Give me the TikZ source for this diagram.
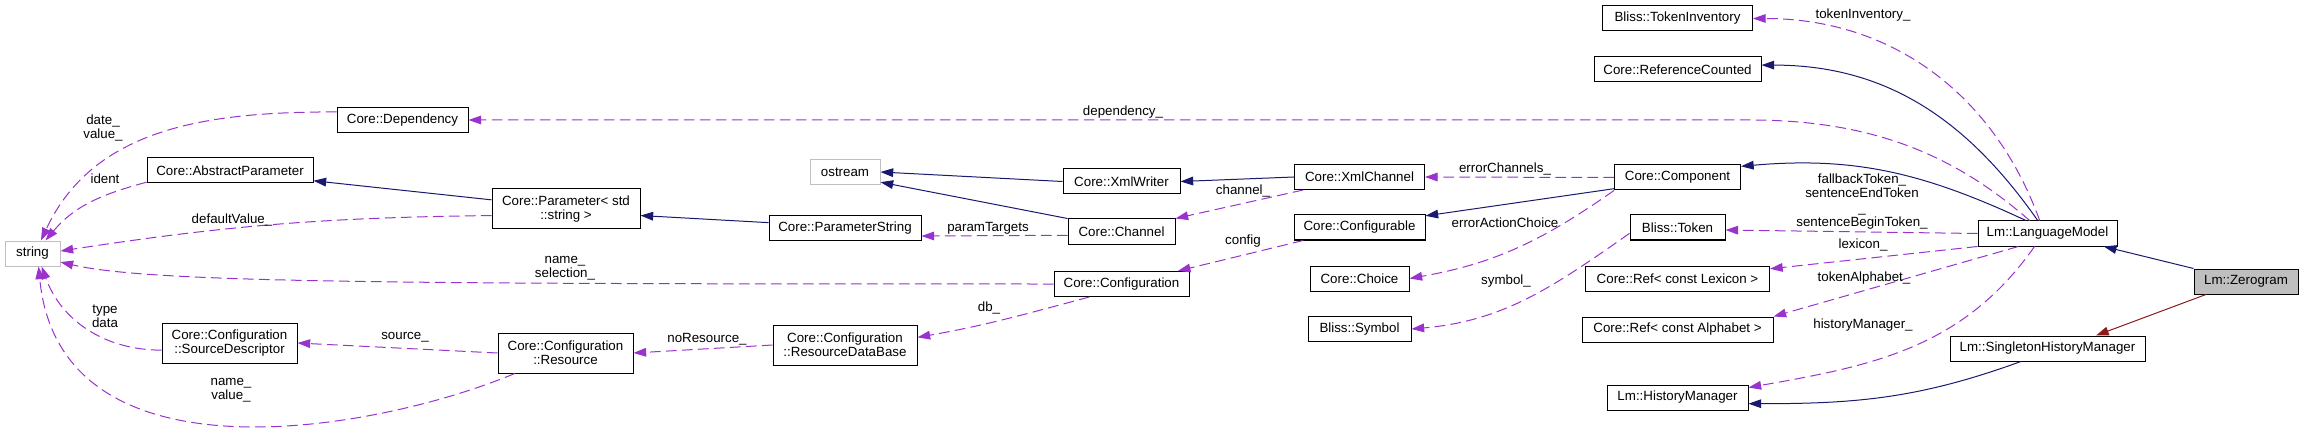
\documentclass[tikz,border=0pt]{standalone}
\usepackage{fontspec}
\setmainfont{Liberation Sans}
\usepackage{xcolor}
\usepackage{tikz}
\usetikzlibrary{arrows.meta}

\definecolor{edgeblue}{HTML}{191970}
\definecolor{edgepurple}{HTML}{9A32CD}
\definecolor{edgered}{HTML}{8B1A1A}
\definecolor{extgray}{HTML}{BFBFBF}

\tikzset{
  cls/.style={draw, rectangle, line width=0.75pt, fill=white, minimum height=18.75pt, inner sep=0pt, align=center, font=\fontsize{10}{10.7}\selectfont},
  ext/.style={cls, draw=extgray},
  lbl/.style={inner sep=0pt, align=center, font=\fontsize{10}{10.7}\selectfont},
  inherit/.style={edgeblue, line width=0.75pt, -{Triangle[length=9.5pt,width=6.5pt]}},
  usage/.style={edgepurple, line width=0.75pt, dash pattern=on 8pt off 4pt, -{Triangle[length=9.5pt,width=6.5pt]}},
}

\begin{document}
\begin{tikzpicture}[x=0.75pt, y=-0.75pt]
\useasboundingbox (0,0) rectangle (2303,431);

% External types
\node[ext, minimum width=41.25pt] (string) at (32.5,253.5) {string};
\node[ext, minimum width=52.5pt] (ostream) at (845,172) {ostream};

% Core classes
\node[cls, minimum width=98.25pt] (dep) at (402.5,120) {Core::Dependency};
\node[cls, minimum width=124.5pt] (absparam) at (230,170.5) {Core::AbstractParameter};
\node[cls, minimum width=101.25pt, minimum height=30pt] (srcdesc) at (229.5,343) {Core::Configuration\\::SourceDescriptor};
\node[cls, minimum width=111pt, minimum height=30pt] (param) at (566,209) {Core::Parameter< std\\::string >};
\node[cls, minimum width=101.25pt, minimum height=30pt] (resource) at (565.5,353) {Core::Configuration\\::Resource};
\node[cls, minimum width=108pt, minimum height=30pt] (resdb) at (845,345) {Core::Configuration\\::ResourceDataBase};
\node[cls, minimum width=114pt] (paramstr) at (845,228) {Core::ParameterString};
\node[cls, minimum width=87.75pt] (xmlwriter) at (1121.5,181.5) {Core::XmlWriter};
\node[cls, minimum width=80.25pt] (channel) at (1121.5,231.5) {Core::Channel};
\node[cls, minimum width=101.25pt] (config) at (1121.5,284) {Core::Configuration};

% Middle column
\foreach \nm/\y/\bw/\txt in {xmlchannel/177/97.5/Core::XmlChannel, configurable/227.5/98.25/Core::Configurable, choice/278.5/74.25/Core::Choice, symbol/329/77.25/Bliss::Symbol} {
   \node[cls, minimum width=\bw pt] (\nm) at (1359.5,\y) {\txt};
}

% Right column
\foreach \nm/\y/\bw/\txt in {tokinv/18.5/112.5/Bliss::TokenInventory, refcount/69.5/125.25/Core::ReferenceCounted, component/177.5/94.5/Core::Component, token/227.5/71.25/Bliss::Token, lexicon/278.5/138/Core::Ref< const Lexicon >, alphabet/329.5/143.25/Core::Ref< const Alphabet >, histmgr/397.5/105.75/Lm::HistoryManager} {
   \node[cls, minimum width=\bw pt] (\nm) at (1677.5,\y) {\txt};
}

% Lm classes
\node[cls, minimum width=104.25pt] (langmodel) at (2047.5,233.5) {Lm::LanguageModel};
\node[cls, minimum width=146.25pt] (singleton) at (2047.5,348.5) {Lm::SingletonHistoryManager};
\node[cls, fill=extgray, minimum width=78pt] (zerogram) at (2246,281.5) {Lm::Zerogram};

% Inheritance
\draw[inherit] (param.173) -- (absparam.-7);
\draw[inherit] (paramstr.176) -- (param.-5);
\draw[inherit] (xmlwriter.west) -- (ostream.east);
\draw[inherit] (channel.north west) -- (ostream.-16);
\draw[inherit] (xmlchannel.west) -- (xmlwriter.east);
\draw[inherit] (component.190) -- (configurable.10);
\draw[inherit] (langmodel.149) to[out=155,in=5] (component.10);
\draw[inherit] (langmodel.127) to[out=125,in=0] (refcount.3);
\draw[inherit] (zerogram.north west) -- (langmodel.-13);
\draw[inherit] (singleton.206) to[out=200,in=0] (histmgr.-5);
\draw[inherit, edgered] (zerogram.198) -- (singleton.15);

% Usage
\draw[usage] (dep.173) to[out=180,in=65] (string.57);
\draw[usage] (absparam.188) to[out=195,in=50] (string.45);
\draw[usage] (param.185) to[bend right=4] (string.5);
\draw[usage] (config.west) .. controls (400,284) and (150,283) .. (string.-17);
\draw[usage] (srcdesc.186) to[out=180,in=-70] (string.-55);
\draw[usage] (resource.202) .. controls (380,430) and (60,490) .. (string.-65);
\draw[usage] (resource.west) -- (srcdesc.east);
\draw[usage] (resdb.west) -- (resource.east);
\draw[usage] (config.202) to[out=195,in=10] (resdb.6);
\draw[usage] (channel.184) -- (paramstr.-6);
\draw[usage] (xmlchannel.193) -- (channel.north east);
\draw[usage] (configurable.193) -- (config.13);
\draw[usage] (component.west) -- (xmlchannel.east);
\draw[usage] (component.south west) to[out=215,in=10] (choice.east);
\draw[usage] (token.187) to[out=215,in=5] (symbol.east);
\draw[usage] (langmodel.121) to[out=110,in=0] (tokinv.east);
\draw[usage] (langmodel.144) .. controls (1960,160) and (1880,120) .. (1750,120) -- (dep.east);
\draw[usage] (langmodel.west) -- (token.-3);
\draw[usage] (langmodel.south west) -- (lexicon.6);
\draw[usage] (langmodel.204) -- (alphabet.north east);
\draw[usage] (langmodel.225) to[out=235,in=10] (histmgr.8);

% Labels
\node[lbl] (l-datevalue) at (103,128) {date\_\\value\_};
\node[lbl] (l-ident) at (105,179) {ident};
\node[lbl] (l-default) at (232,220) {defaultValue\_};
\node[lbl] (l-namesel) at (565,268) {name\_\\selection\_};
\node[lbl] (l-typedata) at (105,316) {type\\data};
\node[lbl] (l-namevalue) at (231,390) {name\_\\value\_};
\node[lbl] (l-source) at (405,337) {source\_};
\node[lbl] (l-noresource) at (707,339) {noResource\_};
\node[lbl] (l-db) at (989,308) {db\_};
\node[lbl] (l-paramtargets) at (988,228) {paramTargets};
\node[lbl] (l-dependency) at (1123,112) {dependency\_};
\node[lbl] (l-channel) at (1243,191) {channel\_};
\node[lbl] (l-config) at (1243,241) {config};
\node[lbl] (l-errorchannels) at (1505,169) {errorChannels\_};
\node[lbl] (l-erroraction) at (1505,223) {errorActionChoice};
\node[lbl] (l-symbol) at (1506,281) {symbol\_};
\node[lbl] (l-tokinv) at (1863,15) {tokenInventory\_};
\node[lbl] (l-tokens) at (1862,201.5) {fallbackToken\_\\sentenceEndToken\\\_\\sentenceBeginToken\_};
\node[lbl] (l-lexicon) at (1863,245) {lexicon\_};
\node[lbl] (l-tokalpha) at (1864,278) {tokenAlphabet\_};
\node[lbl] (l-histmgr) at (1863,325) {historyManager\_};
\end{tikzpicture}
\end{document}
